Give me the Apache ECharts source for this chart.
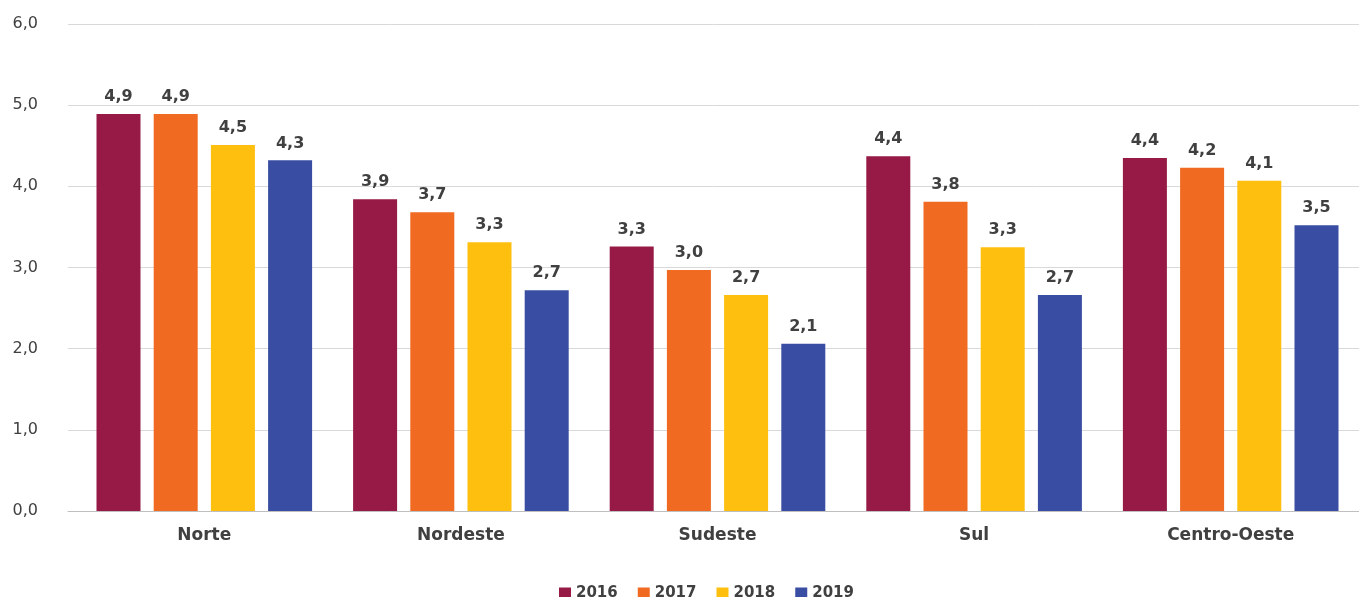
<!DOCTYPE html>
<html><head><meta charset="utf-8">
<script src="https://cdn.jsdelivr.net/npm/echarts@6/dist/echarts.min.js"></script>
<style>html,body{margin:0;padding:0;background:#fff}#c{width:1359px;height:597px}</style>
</head><body><div id="c"></div>
<script>
var categories = ['Norte', 'Nordeste', 'Sudeste', 'Sul', 'Centro-Oeste'];
var years = ['2016', '2017', '2018', '2019'];
var v2016 = [4.89, 3.84, 3.26, 4.37, 4.35];
var v2017 = [4.89, 3.68, 2.97, 3.81, 4.23];
var v2018 = [4.51, 3.31, 2.66, 3.25, 4.07];
var v2019 = [4.32, 2.72, 2.06, 2.66, 3.52];
var l2016 = ['4,9', '3,9', '3,3', '4,4', '4,4'];
var l2017 = ['4,9', '3,7', '3,0', '3,8', '4,2'];
var l2018 = ['4,5', '3,3', '2,7', '3,3', '4,1'];
var l2019 = ['4,3', '2,7', '2,1', '2,7', '3,5'];
var colors = ['#961A45', '#F06A22', '#FFBF0F', '#394DA2'];

var vals = [v2016, v2017, v2018, v2019];
var labs = [l2016, l2017, l2018, l2019];
var FONT = '"DejaVu Sans", sans-serif';
var series = years.map(function (y, i) {
  return {
    name: y, type: 'bar', data: vals[i], barWidth: 44, barGap: '30%',
    xAxisIndex: 0, yAxisIndex: 0,
    itemStyle: { color: colors[i] },
    label: {
      show: true, position: 'top', distance: 9,
      fontFamily: FONT, fontWeight: 'bold', fontSize: 16, color: '#404040',
      formatter: function (p) { return labs[i][p.dataIndex]; }
    }
  };
});
var chart = echarts.init(document.getElementById('c'));
chart.setOption({
  animation: false,
  color: colors,
  grid: [
    { left: 76, right: 0, top: 24, bottom: 86 },
    { left: 68, right: 0, top: 24, bottom: 86, z: 0 }
  ],
  legend: {
    data: years, left: 554, top: 581, itemWidth: 12, itemHeight: 12, itemGap: 20,
    icon: 'rect',
    textStyle: { fontFamily: FONT, fontWeight: 'bold', fontSize: 15, color: '#404040' }
  },
  xAxis: [
    {
      type: 'category', data: categories, gridIndex: 0,
      axisTick: { show: false },
      axisLine: { show: false },
      axisLabel: { margin: 16, fontFamily: FONT, fontWeight: 'bold', fontSize: 17, color: '#404040' }
    },
    {
      type: 'value', gridIndex: 1, min: 0, max: 1,
      axisTick: { show: false }, axisLabel: { show: false }, splitLine: { show: false },
      axisLine: { show: true, onZero: false, lineStyle: { color: '#BFBFBF', width: 1 } }
    }
  ],
  yAxis: [
    {
      type: 'value', gridIndex: 0, min: 0, max: 6, interval: 1,
      axisLine: { show: false }, axisTick: { show: false },
      splitLine: { show: false }, axisLabel: { show: false }
    },
    {
      type: 'value', gridIndex: 1, min: 0, max: 6, interval: 1,
      axisLine: { show: false }, axisTick: { show: false },
      splitLine: { lineStyle: { color: '#D9D9D9', width: 1 } },
      axisLabel: {
        margin: 30, fontFamily: FONT, fontSize: 16, color: '#404040', padding: [4, 0, 0, 0],
        formatter: function (v) { return v.toFixed(1).replace('.', ','); }
      }
    }
  ],
  series: series
});
</script></body></html>
